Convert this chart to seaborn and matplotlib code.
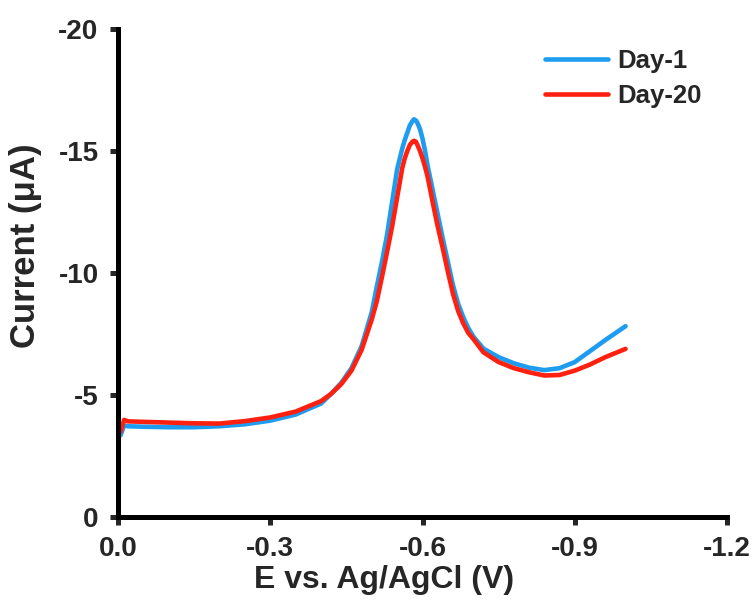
import numpy as np
import pandas as pd
import matplotlib
matplotlib.use("Agg")
import matplotlib.pyplot as plt
import seaborn as sns

# Potential (V vs Ag/AgCl)
potential = [-0.005, -0.012, -0.02, -0.05, -0.10, -0.15, -0.20, -0.25, -0.30, -0.35,
             -0.40, -0.42, -0.44, -0.46, -0.48, -0.50, -0.51, -0.52, -0.53, -0.54,
             -0.55, -0.56, -0.565, -0.57, -0.575, -0.58, -0.583, -0.587, -0.59, -0.595,
             -0.60, -0.605, -0.61, -0.62, -0.63, -0.64, -0.65, -0.66, -0.67, -0.68,
             -0.69, -0.70, -0.72, -0.75, -0.78, -0.81, -0.84, -0.87, -0.90, -0.93,
             -0.96, -1.00]

day1_current = [-3.35, -3.75, -3.72, -3.70, -3.68, -3.68, -3.72, -3.80, -3.95, -4.20,
                -4.65, -5.05, -5.50, -6.10, -7.00, -8.40, -9.45, -10.45, -11.55, -12.90,
                -14.25, -15.10, -15.45, -15.75, -16.05, -16.22, -16.30, -16.25, -16.15, -15.90,
                -15.50, -15.00, -14.40, -13.40, -12.40, -11.40, -10.45, -9.50, -8.75, -8.20,
                -7.75, -7.40, -6.90, -6.55, -6.30, -6.12, -6.02, -6.10, -6.35, -6.80,
                -7.25, -7.82]

day20_current = [-3.50, -3.98, -3.92, -3.90, -3.87, -3.84, -3.83, -3.93, -4.08, -4.32,
                 -4.75, -5.05, -5.45, -6.00, -6.85, -8.10, -8.85, -9.83, -10.85, -11.90,
                 -13.10, -14.30, -14.70, -15.00, -15.25, -15.38, -15.42, -15.38, -15.25, -15.00,
                 -14.70, -14.35, -13.95, -12.90, -11.90, -11.00, -10.05, -9.15, -8.45, -7.95,
                 -7.55, -7.30, -6.75, -6.35, -6.10, -5.93, -5.80, -5.82, -6.00, -6.25,
                 -6.55, -6.89]

series_names = ["Day-1", "Day-20"]
colors = ["#1E9CF0", "#FF2010"]
x_ticks = [0.0, -0.3, -0.6, -0.9, -1.2]
x_ticklabels = ["0.0", "-0.3", "-0.6", "-0.9", "-1.2"]
y_ticks = [0, -5, -10, -15, -20]
y_ticklabels = ["0", "-5", "-10", "-15", "-20"]

df = pd.concat([
    pd.DataFrame({"E": potential, "I": day1_current, "Day": series_names[0]}),
    pd.DataFrame({"E": potential, "I": day20_current, "Day": series_names[1]}),
])

sns.set_style("ticks")
plt.rcParams["font.family"] = ["Liberation Sans", "DejaVu Sans"]
plt.rcParams["font.weight"] = "bold"

fig = plt.figure(figsize=(7.56, 6.03), dpi=100)
ax = fig.add_axes([0.1561, 0.1426, 0.8056, 0.8093])

sns.lineplot(data=df, x="E", y="I", hue="Day", palette=dict(zip(series_names, colors)),
             linewidth=3.3, ax=ax, estimator=None, sort=True)
for ln in ax.get_lines():
    ln.set_solid_joinstyle("round")
    ln.set_solid_capstyle("round")

ax.set_xlim(0, -1.2)
ax.set_ylim(0, -20)
ax.set_xticks(x_ticks)
ax.set_xticklabels(x_ticklabels)
ax.set_yticks(y_ticks)
ax.set_yticklabels(y_ticklabels)

for s in ["top", "right"]:
    ax.spines[s].set_visible(False)
for s in ["left", "bottom"]:
    ax.spines[s].set_linewidth(3.6)
    ax.spines[s].set_color("black")

ax.tick_params(axis="both", direction="out", length=6, width=3.6, labelsize=20, pad=8)
for lab in ax.get_xticklabels() + ax.get_yticklabels():
    lab.set_fontweight("bold")

ax.set_xlabel("E vs. Ag/AgCl (V)", fontsize=23, fontweight="bold")
ax.set_ylabel("Current (\u03bcA)", fontsize=25, fontweight="bold")
ax.xaxis.set_label_coords(0.437, -0.098)
ax.yaxis.set_label_coords(-0.125, 0.557)

leg = ax.legend(loc="upper left", bbox_to_anchor=(545 / 756, 1 - 49 / 603),
                bbox_transform=fig.transFigure, frameon=False, fontsize=18.5,
                handlelength=2.45, handletextpad=0.35, labelspacing=0.42,
                borderpad=0, borderaxespad=0)
for t in leg.get_texts():
    t.set_fontweight("bold")
for l in leg.get_lines():
    l.set_linewidth(3.3)
    l.set_solid_capstyle("round")

fig.savefig("out.png", dpi=100)
